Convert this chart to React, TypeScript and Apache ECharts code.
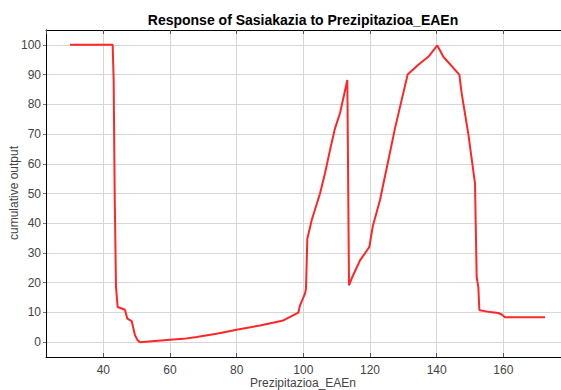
import React, { useEffect, useRef } from "react";
import * as echarts from "echarts";

const TITLE = "Response of Sasiakazia to Prezipitazioa_EAEn";
const X_NAME = "Prezipitazioa_EAEn";
const Y_NAME = "cumulative output";

const xs = [
  30, 42.8, 43.1, 43.4, 43.8, 44.3, 46.5, 47.2, 48.5, 49.5, 50.3, 51, 55.5, 60, 64, 68, 74, 80, 87, 94,
  98.5, 99, 100.5, 100.8, 101.2, 102.5, 105, 106.5, 108, 109.5, 111, 113.2, 113.7, 114.5, 117, 119.8,
  120.8, 123, 125.5, 127.5, 129.5, 131.3, 134.5, 137.5, 140.2, 142, 146.8, 147.5, 149.5, 151.5, 152,
  152.5, 152.8, 153, 156, 158.5, 159.5, 160.5, 172.5,
];
const ys = [
  100, 100, 88, 50, 18.5, 11.8, 10.9, 7.9, 7.1, 2.3, 0.6, 0, 0.4, 0.8, 1.1, 1.7, 2.8, 4.2, 5.6, 7.3,
  9.9, 12.4, 16.3, 18, 34.8, 41, 50, 56.8, 64.6, 71.9, 77, 88.2, 19.1, 21.4, 27.5, 32,
  38.8, 47.8, 61.2, 71.9, 81.5, 90, 93.3, 96, 99.8, 96, 90, 83.7, 70, 53.4, 21.9,
  18.5, 11, 10.7, 10.1, 9.8, 9.3, 8.4, 8.4,
];

const X_MIN = 22.8;
const X_MAX = 177.3;
const Y_MIN = -5;
const Y_MAX = 105;

export default function App() {
  const ref = useRef<HTMLDivElement>(null);
  useEffect(() => {
    if (!ref.current) return;
    const chart = echarts.init(ref.current, null, { renderer: "svg" });
    const font = "Liberation Sans";
    chart.setOption({
      animation: false,
      backgroundColor: "#ffffff",
      graphic: [
        {
          type: "text",
          x: 303,
          y: 20,
          style: {
            text: TITLE,
            font: `bold 14px "${font}"`,
            fill: "#000",
            textAlign: "center",
            textVerticalAlign: "middle",
          },
        },
        {
          type: "text",
          x: 303,
          y: 383,
          style: {
            text: X_NAME,
            font: `12px "${font}"`,
            fill: "#444",
            textAlign: "center",
            textVerticalAlign: "middle",
          },
        },
        {
          type: "text",
          x: 14,
          y: 193,
          rotation: Math.PI / 2,
          style: {
            text: Y_NAME,
            font: `12px "${font}"`,
            fill: "#444",
            textAlign: "center",
            textVerticalAlign: "middle",
          },
        },
      ],
      grid: { left: 46, right: 0, top: 30, bottom: 33, containLabel: false, outerBoundsMode: "none" },
      xAxis: [
        {
          type: "value",
          min: X_MIN,
          max: X_MAX,
          splitNumber: 8,
          minInterval: 20,
          maxInterval: 20,
          position: "bottom",
          axisLine: { show: true, onZero: false, lineStyle: { color: "#000", width: 1 } },
          axisTick: { show: true, inside: true, length: 4, lineStyle: { color: "#555" } },
          axisLabel: {
            fontFamily: font,
            fontSize: 12,
            color: "#444",
            margin: 7,
            showMinLabel: false,
            showMaxLabel: false,
          },
          splitLine: { show: true, lineStyle: { color: "#d6d6d6", width: 1 } },
        },
        {
          type: "value",
          min: X_MIN,
          max: X_MAX,
          splitNumber: 8,
          minInterval: 20,
          maxInterval: 20,
          position: "top",
          axisLine: { show: true, onZero: false, lineStyle: { color: "#000", width: 1 } },
          axisTick: { show: true, inside: true, length: 4, lineStyle: { color: "#555" } },
          axisLabel: { show: false },
          splitLine: { show: false },
        },
      ],
      yAxis: {
        type: "value",
        min: Y_MIN,
        max: Y_MAX,
        splitNumber: 11,
        minInterval: 10,
        maxInterval: 10,
        axisLine: { show: true, onZero: false, lineStyle: { color: "#000", width: 1 } },
        axisTick: { show: true, inside: false, length: 3, lineStyle: { color: "#777" } },
        axisLabel: {
          fontFamily: font,
          fontSize: 12,
          color: "#444",
          margin: 5,
          showMinLabel: false,
          showMaxLabel: false,
        },
        splitLine: { show: true, lineStyle: { color: "#d6d6d6", width: 1 } },
      },
      series: [
        {
          type: "line",
          xAxisIndex: 0,
          data: xs.map((x, i) => [x, ys[i]]),
          showSymbol: false,
          symbol: "none",
          lineStyle: { color: "#ff2626", width: 2 },
          silent: true,
        },
      ],
    });
    return () => chart.dispose();
  }, []);
  return <div ref={ref} style={{ width: 561, height: 390, position: "absolute", left: 0, top: 0 }} />;
}
